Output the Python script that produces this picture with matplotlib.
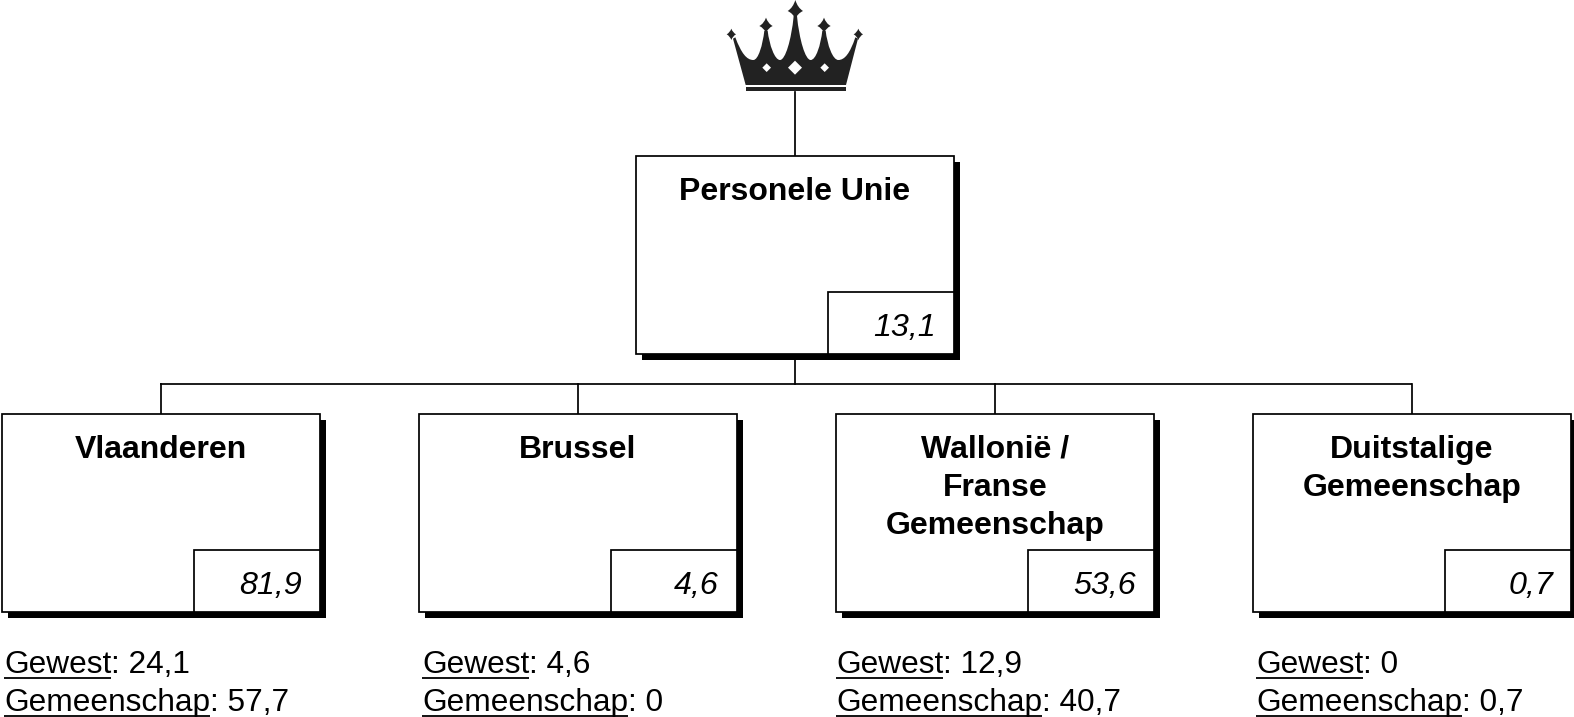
import matplotlib
matplotlib.use('Agg')
import matplotlib.pyplot as plt
from matplotlib.patches import Rectangle, PathPatch, Polygon
from matplotlib.path import Path

plt.rcParams['font.family'] = ['Liberation Sans', 'DejaVu Sans']

# data
top_name = 'Personele Unie'
top_value = '13,1'
names = ['Vlaanderen', 'Brussel', 'Wallonië /\nFranse\nGemeenschap', 'Duitstalige\nGemeenschap']
values = ['81,9', '4,6', '53,6', '0,7']
gewest = ['24,1', '4,6', '12,9', '0']
gemeenschap = ['57,7', '0', '40,7', '0,7']
box_left = [2, 419, 836, 1253]
text_left = [4, 422, 836, 1256]

W, H = 1574, 717
fig = plt.figure(figsize=(W / 100, H / 100), dpi=100)
ax = fig.add_axes([0, 0, 1, 1])
ax.set_xlim(0, W)
ax.set_ylim(H, 0)
ax.axis('off')

LW = 1.25
BOLD = 23
REG = 22.8
CROWN = '#222222'


def box(x, y, w, h, name, value, name_y):
    ax.add_patch(Rectangle((x + 6, y + 6), w, h, fc='black', ec='black', lw=0, zorder=2))
    ax.add_patch(Rectangle((x, y), w, h, fc='white', ec='black', lw=LW, zorder=3))
    ax.add_patch(Rectangle((x + w - 126, y + h - 62), 126, 62, fc='white', ec='black', lw=LW, zorder=4))
    for i, line in enumerate(name.split('\n')):
        ax.text(x + w / 2, name_y + i * 38, line, ha='center', va='baseline', fontsize=BOLD,
                fontweight='bold', zorder=5)
    ax.text(x + w - 18, y + h - 17.5, value, ha='right', va='baseline', fontsize=23.2,
            style='italic', zorder=5)


def cx(v):
    return 700 + v / 3


def cy(v):
    return v / 3


def star(mx, my, rx, up, down):
    # four pointed star with hollow sides
    tips = [(mx, my - up), (mx + rx, my), (mx, my + down), (mx - rx, my)]
    verts = [(cx(tips[0][0]), cy(tips[0][1]))]
    codes = [Path.MOVETO]
    for i in range(1, 5):
        p = tips[i % 4]
        q = (mx + (tips[i - 1][0] + p[0] - 2 * mx) * 0.3, my + (tips[i - 1][1] + p[1] - 2 * my) * 0.3)
        verts += [(cx(q[0]), cy(q[1])), (cx(p[0]), cy(p[1]))]
        codes += [Path.CURVE3, Path.CURVE3]
    ax.add_patch(PathPatch(Path(verts, codes), fc=CROWN, lw=0, zorder=3))


def crown():
    # outline in zoomed crown units
    body = [
        (Path.MOVETO, (137, 255)), (Path.LINETO, (99, 116)), (Path.LINETO, (106, 112)),
        (Path.CURVE4, (124, 160)), (Path.CURVE4, (140, 180)), (Path.CURVE4, (160, 180)),
        (Path.CURVE4, (175, 180)), (Path.CURVE4, (188, 135)), (Path.CURVE4, (193, 92)),
        (Path.LINETO, (203, 92)),
        (Path.CURVE4, (208, 135)), (Path.CURVE4, (224, 180)), (Path.CURVE4, (240, 180)),
        (Path.CURVE4, (256, 180)), (Path.CURVE4, (274, 120)), (Path.CURVE4, (281, 48)),
        (Path.LINETO, (291, 48)),
        (Path.CURVE4, (298, 120)), (Path.CURVE4, (316, 180)), (Path.CURVE4, (332, 180)),
        (Path.CURVE4, (348, 180)), (Path.CURVE4, (362, 135)), (Path.CURVE4, (367, 92)),
        (Path.LINETO, (377, 92)),
        (Path.CURVE4, (382, 135)), (Path.CURVE4, (398, 180)), (Path.CURVE4, (415, 180)),
        (Path.CURVE4, (434, 180)), (Path.CURVE4, (450, 160)), (Path.CURVE4, (466, 112)),
        (Path.LINETO, (474, 116)),
        (Path.LINETO, (438, 255)), (Path.CLOSEPOLY, (137, 255)),
    ]
    codes = [c for c, p in body]
    verts = [(cx(p[0]), cy(p[1])) for c, p in body]
    ax.add_patch(PathPatch(Path(verts, codes), fc=CROWN, lw=0, zorder=3))
    star(286, 33, 23, 33, 24)
    star(198, 78, 20, 25, 20)
    star(372, 78, 20, 25, 20)
    star(94, 103, 14, 17, 17)
    star(475, 103, 14, 17, 17)
    ax.add_patch(Rectangle((cx(138), cy(261)), 100, 4, fc=CROWN, lw=0, zorder=3))
    for mx, my, r in [(200, 203, 13), (285, 203, 21), (374, 203, 13)]:
        ax.add_patch(Polygon([(cx(mx - r), cy(my)), (cx(mx), cy(my - r)), (cx(mx + r), cy(my)),
                              (cx(mx), cy(my + r))], fc='white', lw=0, zorder=4))


# connectors
ax.plot([795, 795], [92, 155], color='black', lw=LW, zorder=1)
ax.plot([795, 795], [354, 384], color='black', lw=LW, zorder=1)
ax.plot([160, 1412], [384, 384], color='black', lw=LW, zorder=1, solid_capstyle='butt')
for x in box_left:
    ax.plot([x + 158.5, x + 158.5], [384, 414], color='black', lw=LW, zorder=1)

crown()
box(636, 155.5, 318, 198.5, top_name, top_value, 199.5)

for i in range(4):
    box(box_left[i], 414, 318, 198, names[i], values[i], 458)

fig.canvas.draw()
rend = fig.canvas.get_renderer()


def label(x, y, head, val):
    t = ax.text(x, y, head, ha='left', va='baseline', fontsize=REG)
    end = t.get_window_extent(rend).x1
    ax.plot([x, end], [y + 4.5, y + 4.5], color='black', lw=1.3, zorder=5, solid_capstyle='butt')
    ax.text(end, y, ': ' + val, ha='left', va='baseline', fontsize=REG)


for i in range(4):
    label(text_left[i], 673, 'Gewest', gewest[i])
    label(text_left[i], 711, 'Gemeenschap', gemeenschap[i])

fig.savefig('out.png', dpi=100)
